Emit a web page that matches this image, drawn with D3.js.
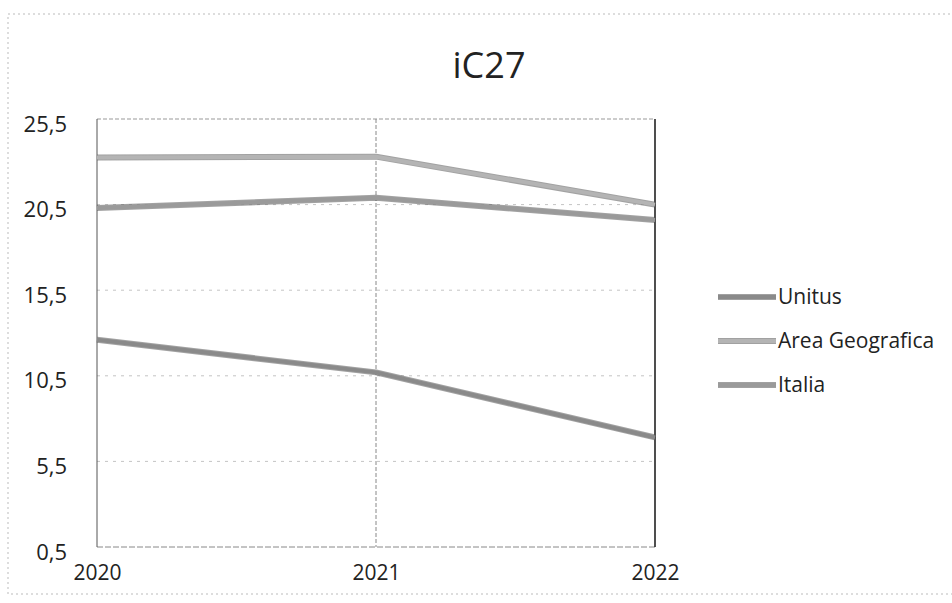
<!DOCTYPE html>
<html><head><meta charset="utf-8">
<script src="https://cdn.jsdelivr.net/npm/d3@7"></script>
<style>body{margin:0;background:#fff}svg{display:block}</style>
</head><body>
<svg id="c" width="952" height="603"></svg>
<script>
const years = ["2020","2021","2022"];
const seriesNames = ["Unitus","Area Geografica","Italia"];
const unitus = [12.6, 10.7, 6.9];
const areaGeografica = [23.25, 23.3, 20.5];
const italia = [20.3, 20.9, 19.6];
const yTicks = [0.5, 5.5, 10.5, 15.5, 20.5, 25.5];
const title = "iC27";

const seriesData = [unitus, areaGeografica, italia];
const colors = ["#8a8a8a", "#b4b4b4", "#9a9a9a"];

const svg = d3.select("#c");
const font = "'Open Sans', sans-serif";

// outer chart border
svg.append("rect").attr("x",8).attr("y",14).attr("width",960).attr("height",580)
  .attr("fill","none").attr("stroke","#bbb").attr("stroke-width",1).attr("stroke-dasharray","2,3");

const x = d3.scalePoint().domain(years).range([97, 655]);
const y = d3.scaleLinear().domain([0.5, 25.5]).range([547, 119]);

// horizontal gridlines
svg.append("g").selectAll("line").data(yTicks.slice(1,5)).join("line")
  .attr("x1",97).attr("x2",655).attr("y1",d=>y(d)).attr("y2",d=>y(d))
  .attr("stroke","#c4c4c4").attr("stroke-dasharray","3,5").attr("stroke-width",1);
// top / bottom border of plot
svg.append("line").attr("x1",97).attr("x2",655).attr("y1",y(25.5)).attr("y2",y(25.5))
  .attr("stroke","#999").attr("stroke-dasharray","4,2");
svg.append("line").attr("x1",97).attr("x2",655).attr("y1",y(0.5)).attr("y2",y(0.5))
  .attr("stroke","#888").attr("stroke-dasharray","6,2");
// vertical gridlines
svg.append("g").selectAll("line").data(years).join("line")
  .attr("x1",d=>x(d)).attr("x2",d=>x(d)).attr("y1",y(25.5)).attr("y2",y(0.5))
  .attr("stroke",(d,i)=> i===2 ? "#222" : (i===0 ? "#555" : "#888"))
  .attr("stroke-width",(d,i)=> i===2 ? 1.6 : 1)
  .attr("stroke-dasharray",(d,i)=> i===1 ? "4,2" : null);

// y axis labels
const yAxis = d3.axisLeft(y).tickValues(yTicks).tickSize(0).tickPadding(0)
  .tickFormat(d => d3.format(".1f")(d).replace(".", ","));
const gy = svg.append("g").attr("transform","translate(67,5)").call(yAxis);
gy.select(".domain").remove();
gy.selectAll("text").attr("font-family",font).attr("font-size",22).attr("fill","#222");

// x axis labels
const xAxis = d3.axisBottom(x).tickSize(0).tickPadding(0);
const gx = svg.append("g").attr("transform","translate(0,565)").call(xAxis);
gx.select(".domain").remove();
gx.selectAll("text").attr("font-family",font).attr("font-size",21).attr("fill","#222");

// lines
const line = d3.line().x((d,i)=>x(years[i])).y(d=>y(d));
seriesData.forEach((s,k)=>{
  svg.append("path").datum(s).attr("d",line).attr("fill","none")
    .attr("stroke","#555").attr("stroke-width",6).attr("stroke-linejoin","round").attr("opacity",0.55);
  svg.append("path").datum(s).attr("d",line).attr("fill","none")
    .attr("stroke",colors[k]).attr("stroke-width",4).attr("stroke-linejoin","round");
});

// title
svg.append("text").attr("x",489).attr("y",78).attr("text-anchor","middle")
  .attr("font-family",font).attr("font-size",36).attr("fill","#222").text(title);

// legend
const leg = svg.append("g").selectAll("g").data(seriesNames).join("g")
  .attr("transform",(d,i)=>`translate(718,${297 + i*44})`);
leg.append("line").attr("x1",0).attr("x2",58).attr("y1",0).attr("y2",0)
  .attr("stroke","#555").attr("stroke-width",6).attr("opacity",0.55);
leg.append("line").attr("x1",0).attr("x2",58).attr("y1",0).attr("y2",0)
  .attr("stroke",(d,i)=>colors[i]).attr("stroke-width",4);
leg.append("text").attr("x",60).attr("y",0).attr("dy","0.35em")
  .attr("font-family",font).attr("font-size",21).attr("fill","#222").text(d=>d);
</script>
</body></html>
